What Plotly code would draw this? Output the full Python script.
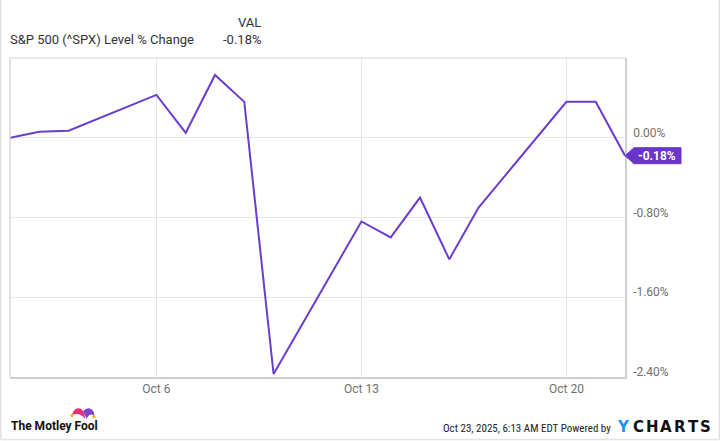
import plotly.graph_objects as go

dates = ["2025-10-01", "2025-10-02", "2025-10-03", "2025-10-06", "2025-10-07",
         "2025-10-08", "2025-10-09", "2025-10-10", "2025-10-13", "2025-10-14",
         "2025-10-15", "2025-10-16", "2025-10-17", "2025-10-20", "2025-10-21",
         "2025-10-22"]
pct_change = [0.00, 0.06, 0.07, 0.43, 0.05, 0.63, 0.36, -2.37, -0.84, -1.00,
              -0.60, -1.22, -0.70, 0.36, 0.36, -0.18]
x_tick_vals = ["2025-10-06", "2025-10-13", "2025-10-20"]
x_tick_text = ["Oct 6", "Oct 13", "Oct 20"]
y_tick_vals = [0.0, -0.8, -1.6, -2.4]
y_tick_text = ["0.00%", "-0.80%", "-1.60%", "-2.40%"]
series_name = "S&P 500 (^SPX) Level % Change"
last_val_text = "-0.18%"

W, H = 720, 441
L, R, T, B = 10, 625, 58, 377
Y_MIN, Y_MAX = -2.4, 0.8

def px(x):
    return (x - L) / (R - L)

def py(y):
    return (B - y) / (B - T)

LINE = "#6a3dcf"
FONT = "Roboto"

fig = go.Figure()
fig.add_trace(go.Scatter(x=dates, y=pct_change, mode="lines",
                         line=dict(color=LINE, width=2), hoverinfo="skip",
                         showlegend=False))

shapes = []
# top border of plot
shapes.append(dict(type="line", xref="paper", yref="paper", x0=0, x1=1, y0=1, y1=1,
                   line=dict(color="#e3e3e3", width=1.5)))
# outer frame
shapes.append(dict(type="line", xref="paper", yref="paper", x0=px(0.75), x1=px(0.75), y0=py(0), y1=py(439.5),
                   line=dict(color="#e3e3e3", width=1.5)))
shapes.append(dict(type="line", xref="paper", yref="paper", x0=px(0.5), x1=px(719.5), y0=py(439.5), y1=py(439.5),
                   line=dict(color="#e3e3e3", width=1.5)))
shapes.append(dict(type="line", xref="paper", yref="paper", x0=px(719.25), x1=px(719.25), y0=py(0), y1=py(439.5),
                   line=dict(color="#e3e3e3", width=1.5)))

# end value tag
last = pct_change[-1]
upp = (Y_MAX - Y_MIN) / (B - T)  # units per pixel
hh = 8 * upp
tag = (f"M {px(R)},{last} L {px(R + 9)},{last + hh} L {px(681)},{last + hh} "
       f"L {px(681)},{last - hh} L {px(R + 9)},{last - hh} Z")
shapes.append(dict(type="path", xref="paper", yref="y", path=tag,
                   fillcolor="#6a35c9", line=dict(color="#6a35c9", width=1)))

# jester hat
pink = (f"M {px(72)},{py(415)} Q {px(74)},{py(407)} {px(80)},{py(408.5)} "
        f"Q {px(84.5)},{py(410)} {px(85)},{py(419)} Q {px(80)},{py(412)} {px(72)},{py(415)} Z")
purple = (f"M {px(83)},{py(411)} Q {px(87)},{py(407)} {px(91)},{py(409)} "
          f"Q {px(95)},{py(412)} {px(94)},{py(416)} Q {px(90)},{py(412)} {px(86.5)},{py(419)} Z")
shapes.append(dict(type="path", xref="paper", yref="paper", path=pink,
                   fillcolor="#ec2f74", line=dict(width=0)))
shapes.append(dict(type="path", xref="paper", yref="paper", path=purple,
                   fillcolor="#7a45c8", line=dict(width=0)))
for cx, cy in [(72, 415.5), (94, 416.5)]:
    shapes.append(dict(type="circle", xref="paper", yref="paper",
                       x0=px(cx - 1.6), x1=px(cx + 1.6), y0=py(cy - 1.6), y1=py(cy + 1.6),
                       fillcolor="#f4b400", line=dict(width=0)))

ann = []
ann.append(dict(xref="paper", yref="paper", x=px(8), y=py(40), xanchor="left", yanchor="middle",
                text=series_name, showarrow=False, font=dict(family=FONT, size=13, color="#333333")))
ann.append(dict(xref="paper", yref="paper", x=px(263), y=py(22), xanchor="right", yanchor="middle",
                text="VAL", showarrow=False, font=dict(family=FONT, size=13, color="#333333")))
ann.append(dict(xref="paper", yref="paper", x=px(263), y=py(40), xanchor="right", yanchor="middle",
                text=last_val_text, showarrow=False, font=dict(family=FONT, size=13, color="#333333")))
ann.append(dict(xref="paper", yref="y", x=px(657), y=last, xanchor="center", yanchor="middle",
                text="<b>" + last_val_text + "</b>", showarrow=False,
                font=dict(family=FONT, size=12, color="#ffffff")))
ann.append(dict(xref="paper", yref="paper", x=px(9), y=py(426), xanchor="left", yanchor="middle",
                text="<b>The Motley Fool</b>", showarrow=False,
                font=dict(family=FONT, size=12, color="#111111")))
ann.append(dict(xref="paper", yref="paper", x=px(613), y=py(428), xanchor="right", yanchor="middle",
                text="Oct 23, 2025, 6:13 AM EDT Powered by", showarrow=False,
                font=dict(family="Roboto Condensed, Roboto", size=11, color="#222222")))
letters = [("Y", 623, "#1e8ff0"), ("C", 638, "#111111"), ("H", 652, "#111111"),
           ("A", 666, "#111111"), ("R", 680, "#111111"), ("T", 693, "#111111"),
           ("S", 706, "#111111")]
for ch, cx, col in letters:
    ann.append(dict(xref="paper", yref="paper", x=px(cx), y=py(427), xanchor="center", yanchor="middle",
                    text="<b>" + ch + "</b>", showarrow=False,
                    font=dict(family="DejaVu Sans", size=15, color=col)))

fig.update_layout(
    width=W, height=H,
    margin=dict(l=L, r=W - R, t=T, b=H - B),
    paper_bgcolor="#ffffff", plot_bgcolor="#ffffff",
    showlegend=False,
    shapes=shapes, annotations=ann,
    xaxis=dict(type="date", range=[dates[0], dates[-1]],
               tickvals=x_tick_vals, ticktext=x_tick_text,
               showgrid=True, gridcolor="#e6e6e6", gridwidth=1,
               showline=True, linecolor="#cfcfcf", linewidth=1.5, mirror=False,
               ticks="", zeroline=False,
               tickfont=dict(family=FONT, size=12, color="#707070")),
    yaxis=dict(range=[Y_MIN, Y_MAX], side="right",
               tickvals=y_tick_vals, ticktext=y_tick_text,
               showgrid=True, gridcolor="#e6e6e6", gridwidth=1,
               showline=True, linecolor="#cfcfcf", linewidth=1.5,
               ticks="", zeroline=False, ticklabelshift=-5, ticklabelstandoff=4,
               tickfont=dict(family=FONT, size=12, color="#707070")),
)
# left border of plot
fig.add_shape(type="line", xref="paper", yref="paper", x0=0, x1=0, y0=0, y1=1,
              line=dict(color="#d6d6d6", width=1.5))

fig.write_html("out.html", config={"displayModeBar": False},
               post_script="document.body.style.margin='0';document.body.style.overflow='hidden';")
